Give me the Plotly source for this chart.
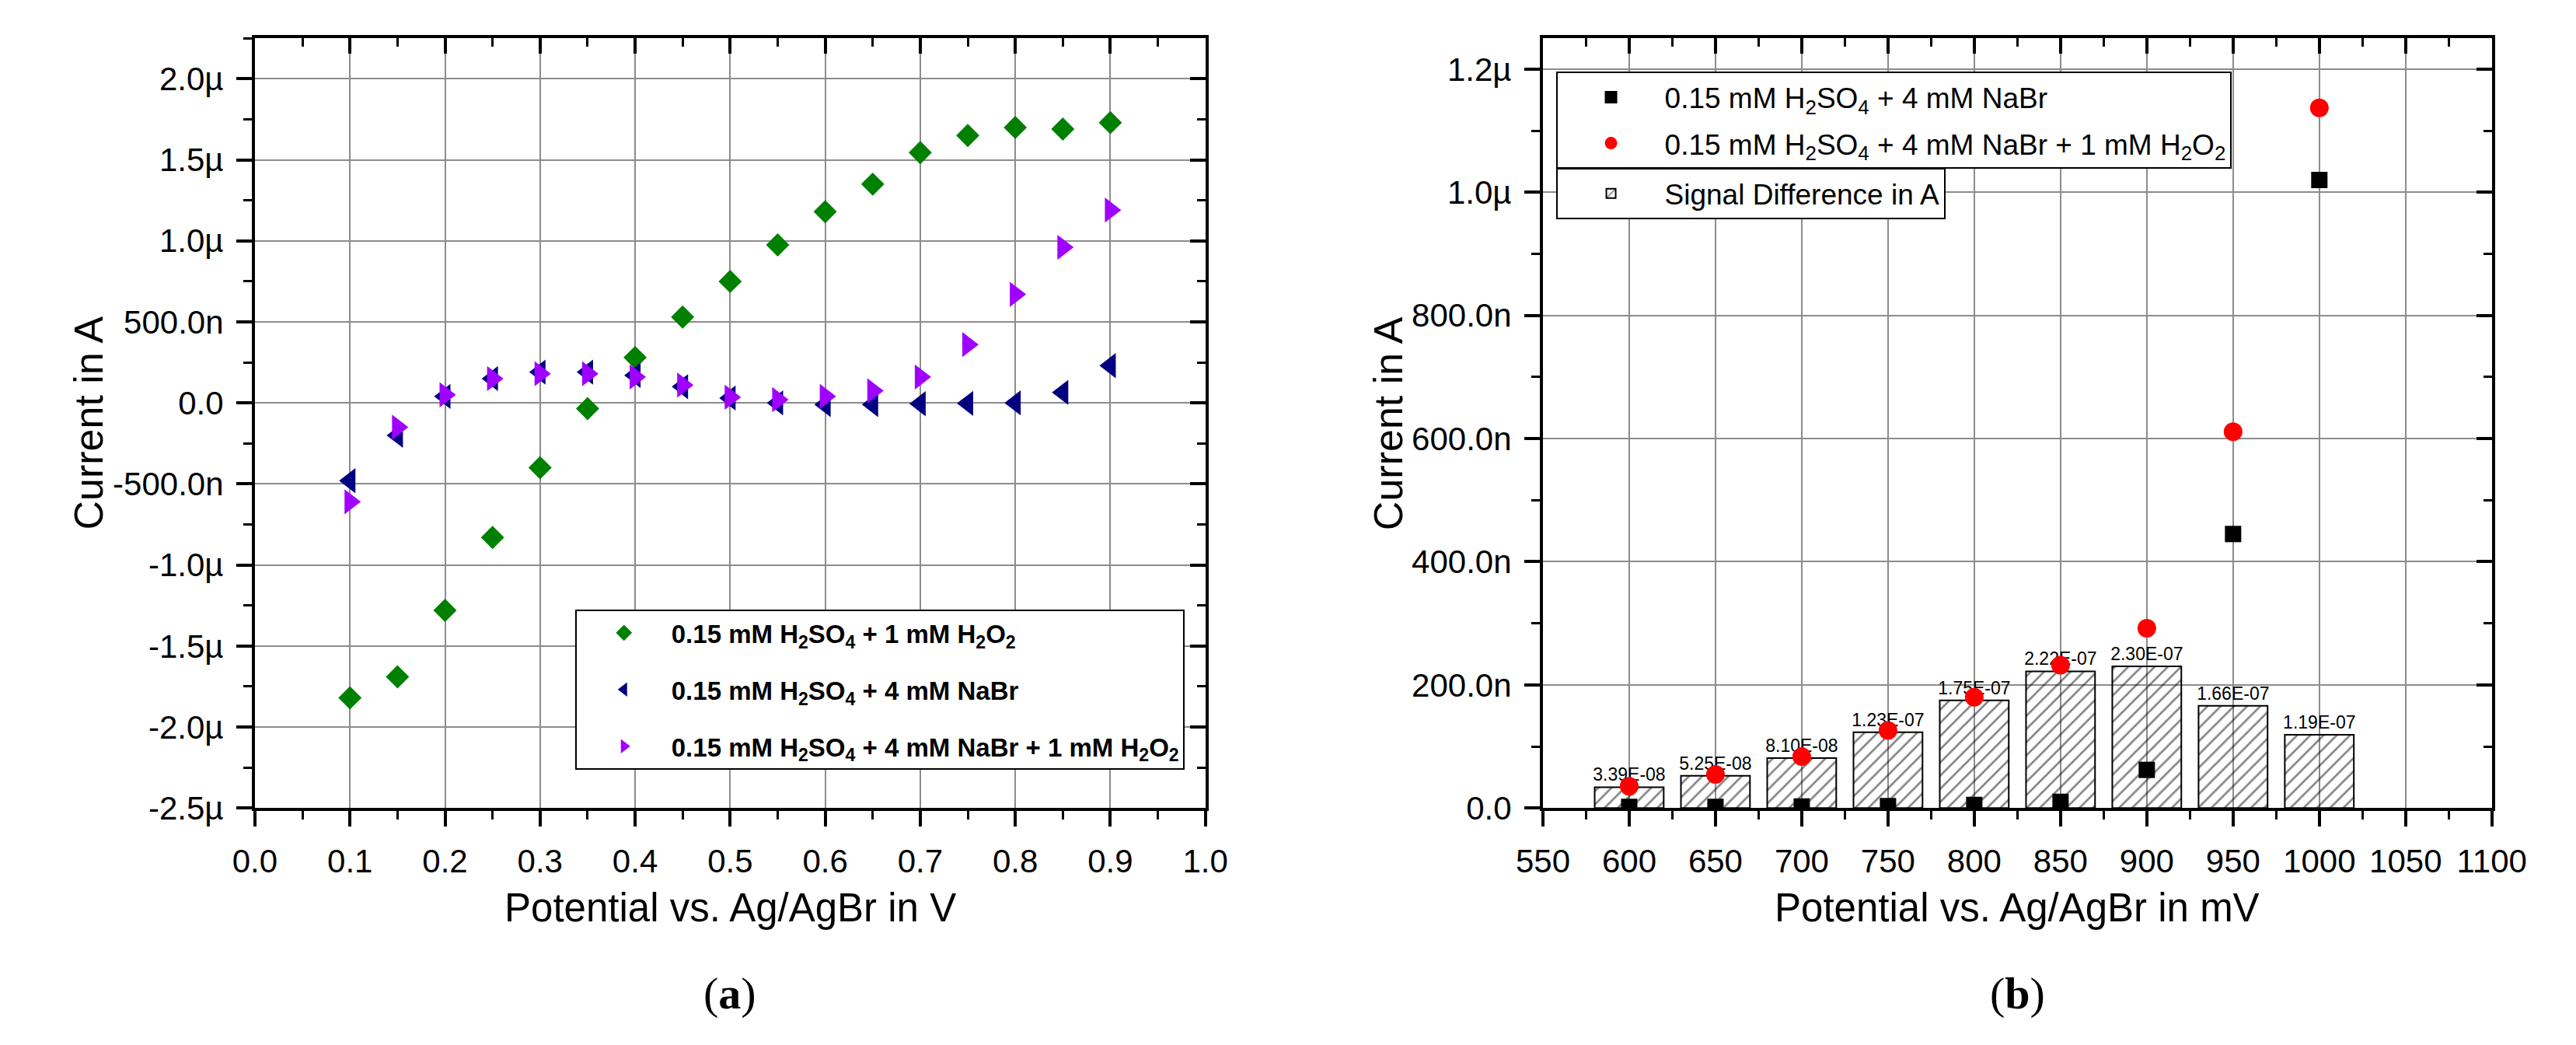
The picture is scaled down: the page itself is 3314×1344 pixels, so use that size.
import plotly.graph_objects as go

FONT = "Liberation Sans, Arial, sans-serif"

# ---- panel (a): potential in V, current in µA ----
potential_v = [0.10, 0.15, 0.20, 0.25, 0.30, 0.35, 0.40, 0.45, 0.50,
               0.55, 0.60, 0.65, 0.70, 0.75, 0.80, 0.85, 0.90]
i_h2o2 = [-1.82, -1.69, -1.28, -0.83, -0.40, -0.035, 0.28, 0.53, 0.75,
          0.975, 1.18, 1.35, 1.545, 1.65, 1.70, 1.69, 1.73]
i_nabr = [-0.48, -0.20, 0.04, 0.15, 0.19, 0.19, 0.17, 0.10, 0.03,
          0.0, -0.01, -0.01, -0.005, -0.003, 0.0, 0.065, 0.23]
i_nabr_h2o2 = [-0.61, -0.15, 0.05, 0.15, 0.18, 0.18, 0.16, 0.11, 0.035,
               0.02, 0.04, 0.075, 0.16, 0.36, 0.67, 0.96, 1.19]
y_ticks_a = [-2.5, -2.0, -1.5, -1.0, -0.5, 0.0, 0.5, 1.0, 1.5, 2.0]
y_labels_a = ["-2.5µ", "-2.0µ", "-1.5µ", "-1.0µ", "-500.0n", "0.0",
              "500.0n", "1.0µ", "1.5µ", "2.0µ"]

# ---- panel (b): potential in mV, current in nA ----
potential_mv = [600, 650, 700, 750, 800, 850, 900, 950, 1000]
i_b_nabr = [1.9, 2.0, 2.5, 3.0, 5.0, 10.0, 62.0, 445.0, 1020.0]
i_b_nabr_h2o2 = [35.4, 54.5, 83.5, 126.0, 180.0, 232.0, 292.0, 611.0, 1137.0]
signal_diff = [3.39e-08, 5.25e-08, 8.10e-08, 1.23e-07, 1.75e-07,
               2.22e-07, 2.30e-07, 1.66e-07, 1.19e-07]
y_ticks_b = [0, 200, 400, 600, 800, 1000, 1200]
y_labels_b = ["0.0", "200.0n", "400.0n", "600.0n", "800.0n", "1.0µ", "1.2µ"]

H2SO4 = "H<sub>2</sub>SO<sub>4</sub>"
H2O2 = "H<sub>2</sub>O<sub>2</sub>"

fig = go.Figure()

# panel (a) traces
fig.add_trace(go.Scatter(x=potential_v, y=i_h2o2, mode='markers',
                         name=f"0.15 mM {H2SO4} + 1 mM {H2O2}", legendgroup='a1',
                         marker=dict(symbol='diamond', size=23, color='#008000')))
fig.add_trace(go.Scatter(x=potential_v, y=i_nabr, mode='markers',
                         name=f"0.15 mM {H2SO4} + 4 mM NaBr", legendgroup='a2',
                         marker=dict(symbol='triangle-left', size=28, color='#000080')))
fig.add_trace(go.Scatter(x=potential_v, y=i_nabr_h2o2, mode='markers',
                         name=f"0.15 mM {H2SO4} + 4 mM NaBr + 1 mM {H2O2}", legendgroup='a3',
                         marker=dict(symbol='triangle-right', size=28, color='#A000FF')))

# panel (b) traces
fig.add_trace(go.Bar(x=potential_mv, y=[d * 1e9 for d in signal_diff], width=40,
                     name="Signal Difference in A", legend='legend3',
                     xaxis='x2', yaxis='y2',
                     marker=dict(color='rgba(0,0,0,0)', line=dict(color='black', width=2),
                                 pattern=dict(shape='/', fgcolor='black', bgcolor='rgba(0,0,0,0)',
                                              size=12, solidity=0.22)),
                     text=[f"{d:.2E}" for d in signal_diff], textposition='outside',
                     textangle=0, constraintext='none', cliponaxis=False,
                     textfont=dict(family=FONT, size=23, color='black')))
fig.add_trace(go.Scatter(x=potential_mv, y=i_b_nabr, mode='markers',
                         name=f"0.15 mM {H2SO4} + 4 mM NaBr", legend='legend2', legendgroup='b1',
                         xaxis='x2', yaxis='y2',
                         marker=dict(symbol='square', size=21, color='black')))
fig.add_trace(go.Scatter(x=potential_mv, y=i_b_nabr_h2o2, mode='markers',
                         name=f"0.15 mM {H2SO4} + 4 mM NaBr + 1 mM {H2O2}", legend='legend2',
                         legendgroup='b2', xaxis='x2', yaxis='y2',
                         marker=dict(symbol='circle', size=24, color='#FF0000')))

# empty traces so the mirrored (top/right) axes get drawn with inward ticks
fig.add_trace(go.Scatter(x=[None], y=[None], xaxis='x3', yaxis='y3', showlegend=False, hoverinfo='skip'))
fig.add_trace(go.Scatter(x=[None], y=[None], xaxis='x4', yaxis='y4', showlegend=False, hoverinfo='skip'))

tickfont = dict(family=FONT, size=42, color='black')


def main_axis(**kw):
    d = dict(showline=True, linecolor='black', linewidth=4, ticks='outside', ticklen=20,
             tickwidth=4, tickcolor='black', showgrid=True, gridcolor='#8c8c8c', gridwidth=2,
             zeroline=False, tickfont=tickfont, ticklabelstandoff=8)
    d.update(kw)
    return d


def mirror_axis(**kw):
    d = dict(showline=True, linecolor='black', linewidth=4, ticks='inside', ticklen=20,
             tickwidth=4, tickcolor='black', showgrid=False, zeroline=False,
             showticklabels=False)
    d.update(kw)
    return d


def minor(step, ticks=None):
    m = dict(dtick=step, ticklen=11, tickwidth=3, tickcolor='black', showgrid=False)
    if ticks:
        m['ticks'] = ticks
    return m


xa_dom = [292 / 3314, 1545 / 3314]
xb_dom = [1990 / 3314, 3241 / 3314]
y_dom = [1 - 1050 / 1344, 1 - 42 / 1344]
y_mid = (y_dom[0] + y_dom[1]) / 2

title_font = dict(family=FONT, size=52, color='black')
label_font = dict(family="Liberation Serif, Times New Roman, serif", size=58, color='black')

fig.update_layout(
    width=3314, height=1344, autosize=False,
    margin=dict(l=0, r=0, t=0, b=0),
    paper_bgcolor='white', plot_bgcolor='white',
    showlegend=True,
    xaxis=main_axis(domain=xa_dom, anchor='y', range=[0, 1.0], tick0=0, dtick=0.1,
                    tickformat='.1f', minor=minor(0.05)),
    yaxis=main_axis(domain=y_dom, anchor='x', range=[-2.5, 2.25], tickmode='array',
                    tickvals=y_ticks_a, ticktext=y_labels_a, minor=minor(0.25)),
    xaxis2=main_axis(domain=xb_dom, anchor='y2', range=[550, 1100], tick0=550, dtick=50,
                     minor=minor(25)),
    yaxis2=main_axis(domain=y_dom, anchor='x2', range=[0, 1250], tickmode='array',
                     tickvals=y_ticks_b, ticktext=y_labels_b, minor=minor(100)),
    xaxis3=mirror_axis(overlaying='x', side='top', anchor='y3', range=[0, 1.0], tick0=0,
                       dtick=0.1, minor=minor(0.05, 'inside')),
    yaxis3=mirror_axis(overlaying='y', side='right', anchor='x3', range=[-2.5, 2.25],
                       tick0=0, dtick=0.5, minor=minor(0.25, 'inside')),
    xaxis4=mirror_axis(overlaying='x2', side='top', anchor='y4', range=[550, 1100], tick0=550,
                       dtick=50, minor=minor(25, 'inside')),
    yaxis4=mirror_axis(overlaying='y2', side='right', anchor='x4', range=[0, 1250], tick0=0,
                       dtick=200, minor=minor(100, 'inside')),
    legend=dict(x=714 / 3314, y=1 - 790 / 1344, xanchor='left', yanchor='top',
                bordercolor='black', borderwidth=2, bgcolor='white', tracegroupgap=27,
                itemwidth=112,
                font=dict(family=FONT, size=33, color='black', weight='bold')),
    legend2=dict(x=2007 / 3314, y=1 - 86 / 1344, xanchor='left', yanchor='top',
                 bordercolor='black', borderwidth=2, bgcolor='white', tracegroupgap=8,
                 itemwidth=128,
                 font=dict(family=FONT, size=37, color='black')),
    legend3=dict(x=2007 / 3314, y=1 - 212 / 1344, xanchor='left', yanchor='top',
                 bordercolor='black', borderwidth=2, bgcolor='white', itemwidth=128,
                 font=dict(family=FONT, size=37, color='black')),
    annotations=[
        dict(text="Current in A", x=73 / 3314, y=y_mid, textangle=-90, font=title_font),
        dict(text="Potential vs. Ag/AgBr in V", x=(xa_dom[0] + xa_dom[1]) / 2,
             y=1 - 1181 / 1344, font=dict(family=FONT, size=51, color='black')),
        dict(text="Current in A", x=1786 / 3314, y=y_mid, textangle=-90, font=title_font),
        dict(text="Potential vs. Ag/AgBr in mV", x=(xb_dom[0] + xb_dom[1]) / 2,
             y=1 - 1181 / 1344, font=dict(family=FONT, size=51, color='black')),
        dict(text="(<b>a</b>)", x=(xa_dom[0] + xa_dom[1]) / 2, y=1 - 1293 / 1344,
             font=label_font),
        dict(text="(<b>b</b>)", x=(xb_dom[0] + xb_dom[1]) / 2, y=1 - 1293 / 1344,
             font=label_font),
    ],
)
fig.update_annotations(xref='paper', yref='paper', showarrow=False,
                       xanchor='center', yanchor='middle')

fig.write_html("out.html")
